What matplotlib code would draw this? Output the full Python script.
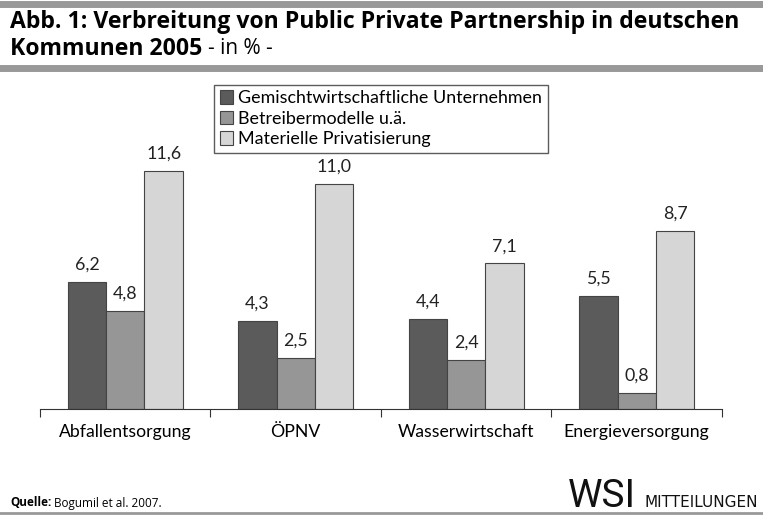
import numpy as np
import matplotlib.pyplot as plt
from matplotlib.lines import Line2D

# data
categories = ["Abfallentsorgung", "ÖPNV", "Wasserwirtschaft", "Energieversorgung"]
series_names = ["Gemischtwirtschaftliche Unternehmen", "Betreibermodelle u.ä.", "Materielle Privatisierung"]
gemischt = [6.2, 4.3, 4.4, 5.5]
betreiber = [4.8, 2.5, 2.4, 0.8]
materiell = [11.6, 11.0, 7.1, 8.7]

colors = ["#5b5b5b", "#969696", "#d6d6d6"]
body_font = "Lato"

fig = plt.figure(figsize=(7.63, 5.16), dpi=100)
ax = fig.add_axes([40 / 763, 107 / 516, 682 / 763, 329 / 516])

x = np.arange(len(categories))
width = 0.225
for i, (vals, name) in enumerate(zip([gemischt, betreiber, materiell], series_names)):
    pos = x + (i - 1) * width
    bars = ax.bar(pos, vals, width, color=colors[i], edgecolor="#444444", linewidth=0.8, label=name)
    for b, v in zip(bars, vals):
        ax.text(b.get_x() + b.get_width() / 2, v + 0.45, f"{v:.1f}".replace(".", ","),
                ha="center", va="bottom", fontsize=12.8, family=body_font, color="#222222",
                bbox=dict(facecolor="white", edgecolor="none", pad=1))

ax.set_xlim(-0.5, len(categories) - 0.5)
ax.set_ylim(0, 16.05)
ax.set_yticks([])
ax.set_xticks(np.arange(-0.5, len(categories)), minor=False)
ax.set_xticklabels([])
ax.set_xticks(x, minor=True)
ax.set_xticklabels(categories, minor=True, fontsize=12.7, family=body_font)
ax.tick_params(axis="x", which="major", length=6, width=0.8, color="#333333", direction="out")
ax.tick_params(axis="x", which="minor", length=0, pad=11)
for s in ["top", "left", "right"]:
    ax.spines[s].set_visible(False)
ax.spines["bottom"].set_color("#333333")
ax.spines["bottom"].set_linewidth(0.8)

leg = ax.legend(loc="upper center", bbox_to_anchor=(0.5, 0.985), frameon=True, fancybox=False,
                edgecolor="#333333", prop={"family": body_font, "size": 12.9},
                handlelength=0.75, handleheight=0.75, handletextpad=0.3, borderpad=0.3,
                labelspacing=0.25, borderaxespad=0)
leg.get_frame().set_linewidth(1.0)

# header bars and title
fig.add_artist(Line2D([0, 1], [1 - 4 / 516, 1 - 4 / 516], color="#999999", linewidth=5))
fig.add_artist(Line2D([0, 1], [1 - 68 / 516, 1 - 68 / 516], color="#999999", linewidth=5))
fig.text(10 / 763, 1 - 22 / 516, "Abb. 1: Verbreitung von Public Private Partnership in deutschen",
         fontsize=16.6, fontweight="bold", family="Open Sans", va="center")
t2 = fig.text(10 / 763, 1 - 49 / 516, "Kommunen 2005", fontsize=16.6, fontweight="bold",
              family="Open Sans", va="center")
fig.canvas.draw()
bb = t2.get_window_extent()
fig.text((bb.x1 + 6) / 763, 1 - 49 / 516, "- in % -", fontsize=15, family="Open Sans", va="center")

# footer
fig.add_artist(Line2D([0, 1], [1 - 513 / 516, 1 - 513 / 516], color="#999999", linewidth=2))
q = fig.text(10 / 763, 1 - 503 / 516, "Quelle:", fontsize=8.5, fontweight="bold", family="Open Sans", va="center")
fig.canvas.draw()
bq = q.get_window_extent()
fig.text((bq.x1 + 3) / 763, 1 - 503 / 516, "Bogumil et al. 2007.", fontsize=8.5, family="Open Sans", va="center")
fig.text(568 / 763, 1 - 507 / 516, "WSI", fontsize=28, family="Roboto",
         va="baseline", color="#111111")
fig.text(645 / 763, 1 - 507 / 516, "MITTEILUNGEN", fontsize=11, family="DejaVu Sans",
         va="baseline", color="#111111")

fig.savefig("out.png", dpi=100)
